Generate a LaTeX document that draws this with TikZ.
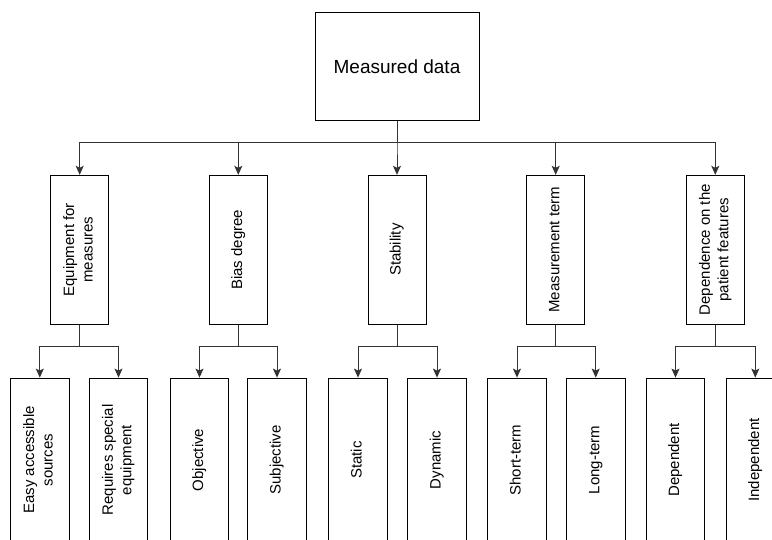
\documentclass[tikz,border=0pt]{standalone}
\usepackage{fontspec}
\setmainfont{Liberation Sans}
\usetikzlibrary{arrows.meta}
\newcommand{\vtext}[1]{\rotatebox{90}{\begin{tabular}{@{}c@{}}#1\end{tabular}}}
\begin{document}
\begin{tikzpicture}
  [x=1pt,y=-1pt,every node/.style={draw=black,line width=0.8pt,inner sep=0pt,fill=white}]
  \tikzstyle{mid} = [minimum width=58pt,minimum height=149pt,font=\fontsize{15}{18.5}\selectfont]
  \tikzstyle{leaf} = [minimum width=58.5pt,minimum height=164pt,font=\fontsize{15}{18.5}\selectfont]
  \tikzstyle{link} = [draw=black!80,line width=0.8pt,-{Stealth[length=9pt,width=8pt,inset=2pt]}]
  \useasboundingbox (0,0) rectangle (772,539);
  \clip (0,0) rectangle (772,539);
  \node[minimum width=164pt,minimum height=108pt,font=\fontsize{19}{23}\selectfont] (top) at (397,66.7) {Measured data};
  \coordinate (bus) at (397,142);

\foreach \i/\x/\txt/\xa/\xb/\la/\lb in {
    1/79.7/{Equipment for\\measures}/39.8/118.5/{Easy accessible\\sources}/{Requires special\\equipment},
    2/238.3/{Bias degree}/199.5/277/{Objective}/{Subjective},
    3/397/{Stability}/358/437/{Static}/{Dynamic},
    4/555.7/{Measurement term}/517/595.7/{Short-term}/{Long-term},
    5/715.3/{Dependence on the\\patient features}/675.5/755.3/{Dependent}/{Independent}} {
   \node[mid] (m\i) at (\x,249.7) {\vtext{\txt}};
   \node[leaf] (a\i) at (\xa,460) {\vtext{\la}};
   \node[leaf] (b\i) at (\xb,460) {\vtext{\lb}};
   \coordinate (s\i) at (\x,346.7);
   \draw[link] (top.south) -- (bus) -| (m\i.north);
   \draw[link] (m\i.south) -- (s\i) -| (a\i.north);
   \draw[link] (m\i.south) -- (s\i) -| (b\i.north);
}
  \end{tikzpicture}
\end{document}
